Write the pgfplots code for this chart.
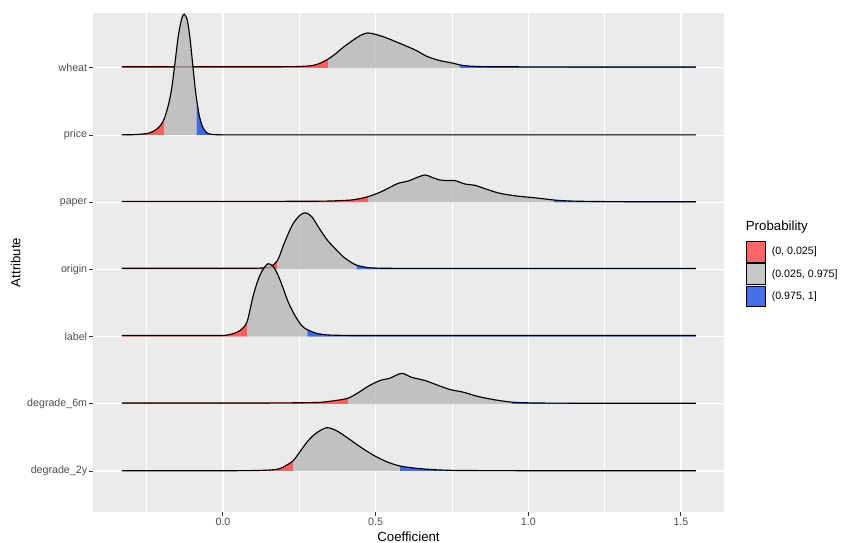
\documentclass[border=0pt]{standalone}
\usepackage{fontspec}
\setmainfont{Liberation Sans}
\usepackage{pgfplots}
\pgfplotsset{compat=1.18}
\usepackage{pgfplotstable}
\definecolor{panelbg}{HTML}{EBEBEB}
\definecolor{ticklab}{HTML}{4D4D4D}
\definecolor{tickcol}{HTML}{333333}
\definecolor{qred}{RGB}{255,52,52}
\definecolor{qgray}{RGB}{180,180,180}
\definecolor{qblue}{RGB}{8,62,222}

% heights h are in pixels of the reference (1 category = 67.2 px)
\pgfplotstableread{
x h
-0.331 1.2
-0.05 1.2
0.12 1.2
0.21 1.3
0.252 1.5
0.295 2.5
0.320 5
0.345 9
0.370 14.5
0.394 20.7
0.427 28
0.450 32.5
0.473 35
0.494 34
0.514 32.3
0.536 30
0.558 27.3
0.580 24.5
0.602 21.7
0.634 17.3
0.667 11.7
0.690 9.2
0.711 7.3
0.754 4.7
0.776 3
0.800 2
0.840 1.4
0.900 1.2
1.0 1.1
1.2 1.0
1.549 1.0
}\tabwheat

\pgfplotstableread{
x h
-0.331 0.3
-0.290 0.5
-0.260 1.2
-0.239 2.3
-0.217 6
-0.203 10.5
-0.192 16.7
-0.179 30
-0.168 46.7
-0.157 73
-0.146 100
-0.135 116.7
-0.127 121
-0.117 115
-0.108 96.7
-0.099 70
-0.091 46.7
-0.086 35
-0.078 20
-0.067 8.3
-0.053 2.3
-0.035 0.7
-0.005 0.3
0.05 0.3
0.15 0.3
0.35 0.3
0.75 0.3
1.549 0.3
}\tabprice

\pgfplotstableread{
x h
-0.331 0.9
-0.05 0.9
0.12 0.9
0.22 1.0
0.30 1.1
0.350 1.3
0.416 2.2
0.450 3.8
0.476 5.7
0.514 10
0.547 15
0.574 19
0.607 21.3
0.634 24.7
0.662 27.3
0.684 25
0.711 22.3
0.735 21.8
0.760 21.7
0.793 18.3
0.825 17
0.864 13
0.907 9
0.962 6.3
1.028 4.3
1.084 2.3
1.137 1.3
1.224 0.8
1.35 0.6
1.549 0.6
}\tabpaper

\pgfplotstableread{
x h
-0.331 1.2
-0.05 1.2
0.06 1.2
0.121 1.4
0.154 2.7
0.178 8.7
0.198 24.3
0.214 36
0.230 46
0.252 54.3
0.271 56.7
0.291 52.7
0.312 42.7
0.340 30
0.367 21
0.394 12.7
0.422 6.7
0.438 4.3
0.458 2.8
0.481 1.7
0.536 1.2
0.65 1.1
0.9 1.1
1.549 1.1
}\taborigin

\pgfplotstableread{
x h
-0.331 1.2
-0.12 1.2
-0.03 1.2
0.012 1.5
0.045 4.3
0.065 8.5
0.080 16
0.099 41
0.116 57.7
0.132 67.7
0.148 73
0.165 70
0.181 61
0.198 47.7
0.214 34.3
0.236 21
0.258 11
0.276 7
0.307 3.3
0.340 1.8
0.39 1.3
0.47 1.2
0.65 1.1
0.95 1.1
1.549 1.1
}\tablabel

\pgfplotstableread{
x h
-0.331 0.9
-0.05 0.9
0.12 0.9
0.22 1.0
0.275 1.2
0.318 1.5
0.361 3
0.410 5.7
0.449 12.3
0.476 17.7
0.514 23.3
0.547 25.7
0.585 30.5
0.618 26.5
0.662 23.3
0.700 19
0.744 14.3
0.787 11.7
0.831 7.7
0.885 4.3
0.946 1.7
1.016 0.9
1.104 0.7
1.25 0.6
1.549 0.6
}\tabdegsix

\pgfplotstableread{
x h
-0.331 0.3
-0.05 0.3
0.08 0.4
0.140 0.8
0.176 1.7
0.195 3.5
0.209 6
0.230 10.3
0.252 19.3
0.279 30.3
0.307 38.3
0.340 43.3
0.372 40.3
0.410 32.7
0.449 24.3
0.492 16
0.536 9.3
0.580 5
0.634 2.7
0.700 1.2
0.765 0.6
0.88 0.4
1.1 0.3
1.549 0.3
}\tabdegtwo

% #1 table, #2 baseline, #3..#4 x range of this quantile band, #5 colour
\newcommand{\ridgefill}[5]{%
\begin{scope}
\clip (axis cs:#3,#2) rectangle (axis cs:#4,8.5);
\addplot[fill=#5, fill opacity=0.75, draw=none, smooth, forget plot] table[x=x, y expr=#2+\thisrow{h}/67.2] {#1} |- (axis cs:-0.331,#2) -- cycle;
\end{scope}
}
\newcommand{\ridge}[4]{%
\ridgefill{#1}{#2}{-0.5}{#3}{qred}
\ridgefill{#1}{#2}{#3}{#4}{qgray}
\ridgefill{#1}{#2}{#4}{1.7}{qblue}
\addplot[black, line width=1.15bp, smooth, forget plot] table[x=x, y expr=#2+\thisrow{h}/67.2] {#1};
}

\begin{document}
\begin{tikzpicture}
\path (-93bp,-31bp) rectangle (748bp,512bp);
\begin{axis}[
 name=ax,
 scale only axis, width=631bp, height=499bp,
 xmin=-0.4258, xmax=1.641, ymin=0.39, ymax=7.818,
 axis background/.style={fill=panelbg},
 axis line style={draw=none},
 tick pos=left,
 tick align=outside,
 major tick length=3.5bp, minor tick length=0pt,
 tick style={color=tickcol, line width=1bp},
 xtick={0,0.5,1,1.5}, xticklabels={0.0,0.5,1.0,1.5},
 minor xtick={-0.25,0.25,0.75,1.25},
 ytick={1,2,3,4,5,6,7},
 yticklabels={degrade\_2y,degrade\_6m,label,origin,paper,price,wheat},
 xmajorgrids, ymajorgrids, xminorgrids,
 major grid style={white, line width=1.1bp},
 minor grid style={white, line width=0.55bp},
 tick label style={font=\fontsize{10.7}{12}\selectfont, color=ticklab},
 xticklabel style={inner sep=2.3bp},
 yticklabel style={inner sep=2.2bp},
 xlabel={Coefficient}, ylabel={Attribute},
 label style={font=\fontsize{13.3}{15}\selectfont, color=black},
 xlabel style={at={(axis description cs:0.5,0)}, anchor=base, yshift=-29.5bp, inner sep=0pt},
 ylabel style={at={(axis description cs:-0.1149,0.5)}, anchor=base, inner sep=0pt},
 legend style={at={(1.0344,0.5432)}, anchor=north west, draw=none, fill=none, inner sep=0pt,
   font=\fontsize{10.7}{12}\selectfont, row sep=1bp, column sep=5.2bp, nodes={inner sep=0.75bp}},
 legend cell align=left,
 /pgf/number format/assume math mode=true,
]
\ridge{\tabwheat}{7}{0.345}{0.776}
\ridge{\tabprice}{6}{-0.192}{-0.086}
\ridge{\tabpaper}{5}{0.476}{1.084}
\ridge{\taborigin}{4}{0.178}{0.438}
\ridge{\tablabel}{3}{0.080}{0.276}
\ridge{\tabdegsix}{2}{0.410}{0.946}
\ridge{\tabdegtwo}{1}{0.230}{0.580}

\addlegendimage{legend image code/.code={\draw[fill=qred, fill opacity=0.75, draw=black, line width=0.6bp] (0bp,-10.3bp) rectangle (19.3bp,10.3bp);}}
\addlegendentry{(0, 0.025]}
\addlegendimage{legend image code/.code={\draw[fill=qgray, fill opacity=0.75, draw=black, line width=0.6bp] (0bp,-10.3bp) rectangle (19.3bp,10.3bp);}}
\addlegendentry{(0.025, 0.975]}
\addlegendimage{legend image code/.code={\draw[fill=qblue, fill opacity=0.75, draw=black, line width=0.6bp] (0bp,-10.3bp) rectangle (19.3bp,10.3bp);}}
\addlegendentry{(0.975, 1]}
\end{axis}
\node[anchor=base west, inner sep=0pt, font=\fontsize{13.3}{15}\selectfont] at ([xshift=21.7bp, yshift=-217.7bp]ax.north east) {Probability};
\end{tikzpicture}
\end{document}
